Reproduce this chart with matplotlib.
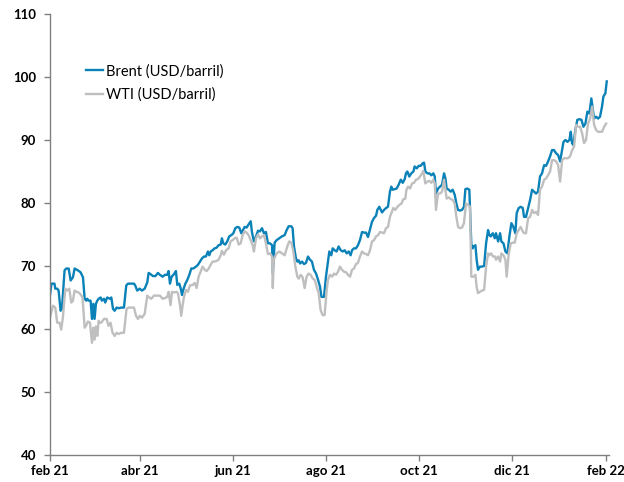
import matplotlib
matplotlib.use("Agg")
import matplotlib.pyplot as plt
import pandas as pd

plt.rcParams['font.family'] = ['Lato', 'DejaVu Sans']

# Precios diarios del petróleo (USD/barril), días contados desde el 1 feb 2021
dias_brent = [0, 1, 3, 3.5, 4.8, 5.7, 7.0, 7.9, 9.6, 10.7, 12.3, 13.6, 15.1, 16.2, 18.4, 20.1,
              21.7, 22.8, 23.9, 24.5, 25.4, 26.7, 27.6, 28.5, 29.3, 30.2, 31.1, 32.0, 33.3, 34.1,
              35.5, 36.3, 37.6, 39.4, 40.3, 41.4, 42.5, 43.8, 45.1, 46.8, 48.6, 50.1, 51.2, 53.4,
              55.2, 56.0, 57.3, 58.9, 60.4, 62.2, 63.9, 64.8, 66.1, 67.6, 69.2, 70.9,
              72.2, 74.0, 75.5, 77.0, 77.9, 78.8, 79.9, 81.4, 82.7, 83.6, 84.9, 85.8, 86.7, 87.5,
              88.9, 90.2, 91.5, 92.8, 94.1, 95.9, 97.2, 98.5, 99.8, 101.1, 102.4, 103.7, 104.6,
              105.5, 106.8, 108.1, 109.4, 110.7, 112.1, 112.9, 113.8, 115.1, 116.4, 117.7, 119.1,
              120.4, 121.7, 123.0, 124.3, 125.6, 126.5, 127.8, 129.1, 130.4, 131.8, 132.6, 133.9,
              135.3, 136.6, 137.9, 139.2, 140.5, 141.8, 143.1, 144.5, 145.8,
              146.3, 147.5, 148.8, 150.6, 152.3, 154.1, 155.4, 156.7, 158.5, 159.3, 160.2, 161.5,
              162.4, 163.3, 164.2, 165.5, 166.8, 168.1, 169.4, 170.7, 172.0, 173.3, 174.7, 176.0,
              177.3, 178.2, 179.9, 181.2, 182.5, 183.4, 184.7, 185.6, 186.9, 188.2, 189.5, 190.9,
              192.2, 193.5, 194.8, 196.1, 197.4, 198.3, 199.6, 200.9, 202.2, 203.5, 204.9, 206.2,
              207.5, 208.8, 210.1, 211.4, 212.7, 214.1, 214.9, 216.2, 218.0,
              219.3, 220.6, 221.9, 223.2, 224.1, 225.0, 226.3, 227.6, 228.9, 230.3, 231.6, 232.9,
              233.7, 234.6, 235.9, 237.2, 238.6, 239.4, 240.8, 242.1, 243.4, 244.7, 245.6, 246.4,
              247.8, 249.1, 250.4, 251.7, 252.6, 253.4, 254.8, 256.1, 257.4, 258.7, 259.6, 260.4,
              261.8, 263.1, 264.4, 265.7, 267.0, 267.9, 269.2, 270.5, 271.8, 272.7, 274.0, 275.3,
              276.6, 277.5, 278.0, 279.3, 280.1, 281.0, 282.3, 283.6, 285.0, 286.3, 287.6, 288.5,
              289.3, 290.7, 292.0,
              292.8, 294.2, 295.5, 296.3, 297.7, 299.0, 300.3, 301.6, 302.9, 304.2, 305.5, 306.4,
              307.7, 309.0, 310.4, 311.2, 312.5, 313.9, 315.2, 316.5, 317.8, 319.1, 320.4, 321.7,
              323.0, 324.4, 325.7, 327.0, 328.3, 329.6, 330.9, 332.2, 333.6, 334.9, 336.2, 337.1,
              338.4, 339.7, 341.0, 341.9, 342.7, 343.6, 344.9, 346.2, 347.6, 348.9, 350.2, 351.5,
              352.8, 354.1, 355.4, 356.3, 357.2, 358.5, 359.8, 361.1, 362.4, 363.3, 364.6, 365.5]
brent = [65.3, 67.2, 67.2, 66.4, 66.4, 66.1, 62.9, 63.2, 69.3, 69.6, 69.6, 67.7, 68.2, 69.6, 69.3, 69.0,
         68.2, 64.8, 64.5, 64.8, 64.5, 64.5, 61.6, 64.0, 61.6, 64.0, 64.5, 64.8, 65.0, 64.5,
         64.8, 64.2, 65.0, 64.8, 65.0, 63.2, 62.9, 63.4, 63.3, 63.4, 63.4, 66.9, 67.2, 67.2,
         67.2, 66.9, 66.1, 66.4, 66.1, 66.4, 67.4, 68.9, 68.7, 68.4, 68.4, 68.9,
         68.6, 68.3, 68.6, 68.6, 69.2, 67.2, 68.3, 68.7, 69.2, 67.0, 67.2, 66.5, 65.4, 66.2,
         67.2, 67.8, 68.6, 69.6, 69.6, 69.9, 70.2, 70.7, 71.2, 71.5, 71.5, 72.3, 71.7,
         72.3, 72.5, 72.8, 72.9, 73.3, 73.4, 74.4, 73.6, 73.4, 73.9, 74.7, 74.9,
         75.2, 76.0, 76.2, 76.1, 75.2, 75.6, 76.2, 76.1, 76.6, 77.1, 75.4, 73.9,
         74.7, 75.6, 75.5, 76.0, 75.2, 75.4, 73.6, 73.6, 73.3,
         68.8, 73.7, 74.1, 74.4, 74.7, 74.9, 75.7, 76.3, 76.3, 76.0, 73.1, 71.2,
         70.7, 70.9, 70.4, 70.7, 70.3, 70.5, 71.5, 71.0, 70.7, 69.4, 68.8, 67.8,
         66.7, 65.1, 65.1, 68.3, 70.7, 72.3, 71.7, 72.8, 72.5, 72.3, 73.1, 72.5,
         72.3, 72.5, 72.0, 72.3, 71.7, 72.5, 72.8, 72.8, 73.3, 74.1, 75.4, 75.3,
         75.3, 74.6, 75.8, 77.0, 77.6, 78.0, 78.9, 79.4, 78.5,
         78.9, 79.2, 79.4, 81.8, 82.6, 82.1, 82.2, 82.3, 82.9, 83.7, 83.2, 83.8,
         84.7, 85.0, 84.2, 84.7, 85.0, 85.8, 85.5, 85.9, 85.9, 86.3, 86.4, 85.0,
         84.7, 84.7, 84.4, 84.7, 84.2, 81.5, 82.3, 82.6, 82.9, 84.7, 83.9, 82.3,
         82.1, 81.8, 82.1, 81.3, 79.7, 78.9, 78.8, 78.9, 79.4, 82.2, 82.3, 82.1,
         73.5, 72.8, 73.1, 73.3, 71.0, 69.4, 69.9, 69.9, 70.0, 73.6, 75.7, 74.9,
         74.7, 75.2, 74.4,
         75.2, 73.9, 75.2, 73.9, 73.6, 72.3, 72.0, 74.7, 76.8, 76.2, 75.2, 78.4,
         79.2, 79.4, 79.2, 77.8, 77.8, 79.2, 80.5, 82.1, 81.8, 81.5, 81.8, 84.2,
         84.7, 86.0, 85.9, 86.6, 87.4, 88.4, 88.4, 87.9, 87.6, 86.6, 88.4, 89.7,
         90.0, 89.7, 90.0, 91.3, 89.5, 89.2, 91.6, 93.2, 93.3, 93.2, 92.1, 92.6,
         94.5, 94.2, 96.6, 95.0, 93.4, 93.7, 93.4, 93.7, 95.3, 96.9, 97.4, 99.3]

dias_wti = [0, 2.0, 3.5, 4.8, 6.3, 7.4, 8.5, 10.1, 11.4, 12.7, 14.0, 15.1, 16.2, 17.5, 18.8, 20.1,
            21.4, 22.8, 24.1, 24.9, 26.3, 27.6, 28.5, 29.3, 30.2, 31.1, 32.0, 32.8, 33.7, 35.5,
            37.2, 38.5, 39.8, 41.1, 42.5, 43.8, 45.1, 46.8, 48.6, 50.3, 51.7, 53.4, 55.2, 56.5,
            57.8, 59.1, 60.4, 62.2, 63.9, 65.2, 66.5, 68.3, 70.0,
            72.2, 74.0, 75.5, 77.0, 77.9, 79.2, 80.1, 81.4, 83.2, 84.0, 85.4, 86.2, 87.1, 88.0,
            89.3, 90.6, 91.9, 93.7, 95.0, 96.3, 97.6, 98.9, 100.2, 101.6, 102.9, 104.2, 105.5,
            106.8, 108.1, 109.4, 110.7, 112.1, 112.9, 114.2, 115.6, 117.3, 118.6, 119.9, 121.3,
            122.6, 123.9, 125.2, 126.5, 127.8, 129.1, 130.4, 131.8, 133.1, 133.9, 135.3, 136.6,
            137.9, 139.2, 140.5, 141.8, 143.1, 144.5, 145.8, 146.3,
            146.9, 148.8, 150.6, 152.3, 154.1, 155.8, 157.1, 158.5, 159.8, 161.1, 162.4, 163.3,
            164.6, 165.9, 167.2, 168.5, 169.8, 171.2, 172.5, 173.8, 175.1, 176.4, 177.7, 179.0,
            180.3, 181.7, 182.5, 183.8, 185.2, 186.5, 187.8, 189.1, 190.4, 191.7, 193.0, 194.4,
            195.7, 197.0, 198.3, 199.6, 200.9, 202.2, 203.5, 204.9, 206.2, 207.5, 208.8, 210.1,
            211.4, 212.7, 214.1, 215.4, 216.7, 218.0,
            219.3, 220.6, 221.9, 223.2, 225.4, 226.7, 228.1, 229.4, 230.7, 232.0, 233.3, 234.0,
            235.1, 236.4, 237.7, 239.0, 240.3, 241.6, 242.9, 244.3, 245.1, 246.4, 247.8, 249.1,
            250.4, 251.7, 252.6, 253.4, 254.8, 256.1, 257.4, 258.7, 259.6, 260.4, 261.8, 263.1,
            264.4, 265.7, 266.6, 267.9, 269.2, 270.5, 271.8, 273.1, 274.5, 275.8, 276.6, 278.0,
            279.3, 280.1, 281.0, 282.3, 283.6, 285.0, 286.3, 287.6, 288.3, 289.6, 290.9, 292.2,
            292.8, 294.2, 295.5, 296.3, 297.7, 299.0, 299.8, 301.2, 302.5, 303.8, 305.1, 306.4,
            307.7, 309.0, 310.4, 311.2, 312.5, 313.9, 315.2, 316.5, 317.8, 319.1, 320.4, 321.7,
            323.0, 324.4, 325.7, 327.0, 328.3, 329.6, 330.9, 332.2, 333.6, 334.9, 336.2, 337.5,
            338.8, 340.1, 341.4, 342.7, 344.1, 345.4, 346.7, 348.0, 349.3, 350.6, 351.9, 353.2,
            354.6, 355.9, 357.2, 358.5, 359.8, 361.1, 362.4, 363.8, 365.1]
wti = [61.8, 63.7, 63.4, 61.0, 61.0, 59.9, 61.8, 66.4, 66.1, 66.4, 64.2, 64.5, 66.1, 65.9, 65.8, 65.5,
       65.0, 60.2, 60.7, 61.2, 61.0, 57.8, 60.2, 58.3, 60.4, 58.9, 61.3, 61.0, 61.0, 61.6,
       61.6, 60.5, 61.0, 59.4, 58.9, 59.4, 59.2, 59.4, 59.4, 63.2, 63.4, 63.4, 63.4, 62.1,
       61.6, 62.1, 61.8, 62.4, 65.3, 65.0, 64.8, 65.3, 65.3,
       65.3, 64.8, 64.9, 65.1, 65.9, 63.8, 65.9, 65.8, 65.9, 65.7, 63.8, 62.1, 63.8, 65.1,
       66.2, 65.9, 66.9, 67.0, 67.3, 66.5, 68.3, 69.1, 69.9, 69.4, 69.2, 69.6, 70.2,
       70.7, 70.7, 70.8, 71.0, 71.7, 72.4, 71.8, 72.5, 72.8, 73.9, 74.1, 74.4,
       74.5, 73.4, 73.6, 74.9, 75.5, 75.3, 74.9, 74.1, 73.3, 72.3, 74.4, 75.0,
       74.4, 74.7, 74.9, 73.6, 71.9, 72.0, 71.5, 66.5,
       71.0, 72.0, 72.3, 72.0, 71.7, 73.1, 73.9, 73.7, 72.3, 69.9, 68.3, 68.0,
       68.6, 68.2, 66.5, 68.3, 68.8, 68.6, 68.0, 67.8, 66.7, 65.7, 63.0, 62.2,
       62.2, 66.2, 67.8, 68.6, 68.3, 68.8, 68.6, 69.1, 69.9, 69.4, 69.1, 69.0,
       68.6, 68.3, 69.4, 69.6, 70.3, 70.5, 71.5, 72.3, 72.0, 71.9, 71.7, 72.5,
       73.9, 74.1, 74.7, 74.9, 75.4, 75.3,
       75.2, 76.0, 76.2, 77.8, 79.2, 78.9, 79.4, 79.7, 79.9, 80.6, 80.7, 82.1,
       82.6, 82.3, 83.1, 83.2, 83.7, 83.8, 84.2, 84.7, 85.1, 83.1, 83.4, 83.5,
       83.2, 83.7, 83.1, 78.9, 81.5, 81.5, 81.8, 83.7, 82.1, 80.7, 80.9, 80.6,
       80.5, 79.9, 78.1, 76.2, 76.0, 76.1, 76.8, 79.9, 79.7, 79.4, 68.3, 68.3,
       68.6, 66.7, 65.7, 65.9, 66.1, 66.2, 69.9, 72.0, 71.7, 72.0, 71.5, 71.5,
       71.0, 71.5, 70.7, 72.0, 71.7, 71.0, 68.3, 72.0, 73.6, 73.7, 73.7, 75.2,
       75.7, 76.2, 75.5, 75.2, 75.2, 77.6, 77.8, 78.9, 78.4, 78.6, 78.1, 82.1,
       82.6, 83.7, 83.9, 84.4, 85.0, 86.8, 86.8, 86.6, 86.0, 83.4, 86.8, 87.1,
       87.1, 87.1, 87.4, 88.3, 89.0, 92.4, 92.1, 92.1, 91.1, 89.5, 90.0, 92.6,
       93.4, 95.3, 92.4, 91.6, 91.3, 91.3, 91.3, 92.1, 92.6]

inicio = pd.Timestamp('2021-02-01')
ticks = pd.to_datetime(['2021-02-01', '2021-04-01', '2021-06-01', '2021-08-01',
                        '2021-10-01', '2021-12-01', '2022-02-01'])
etiquetas = ['feb 21', 'abr 21', 'jun 21', 'ago 21', 'oct 21', 'dic 21', 'feb 22']

fechas_brent = inicio + pd.to_timedelta(dias_brent, unit='D')
fechas_wti = inicio + pd.to_timedelta(dias_wti, unit='D')

fig = plt.figure(figsize=(6.24, 4.82), dpi=100)
ax = fig.add_axes([0.080, 0.056, 0.896, 0.915])

ax.plot(fechas_brent, brent, color='#0A82B8', linewidth=1.7, label='Brent (USD/barril)')
ax.plot(fechas_wti, wti, color='#BFBFBF', linewidth=1.7, label='WTI (USD/barril)')

ax.set_ylim(40, 110)
ax.set_yticks(range(40, 111, 10))
ax.set_xlim(inicio, inicio + pd.Timedelta(days=367))
ax.set_xticks(ticks)
ax.set_xticklabels(etiquetas)

for lado in ['top', 'right']:
    ax.spines[lado].set_visible(False)
for lado in ['left', 'bottom']:
    ax.spines[lado].set_color('#808080')
    ax.spines[lado].set_linewidth(1.0)

ax.tick_params(axis='both', colors='#808080', length=4, width=1.0, labelcolor='black',
               labelsize=9.5)
ax.tick_params(axis='y', pad=6)
for t in ax.get_xticklabels() + ax.get_yticklabels():
    t.set_fontweight('bold')

ax.legend(loc='upper left', bbox_to_anchor=(0.054, 0.9), frameon=False, fontsize=10.5,
          handlelength=1.2, handletextpad=0.15, labelspacing=0.65, borderaxespad=0)

fig.savefig('out.png', dpi=100)
